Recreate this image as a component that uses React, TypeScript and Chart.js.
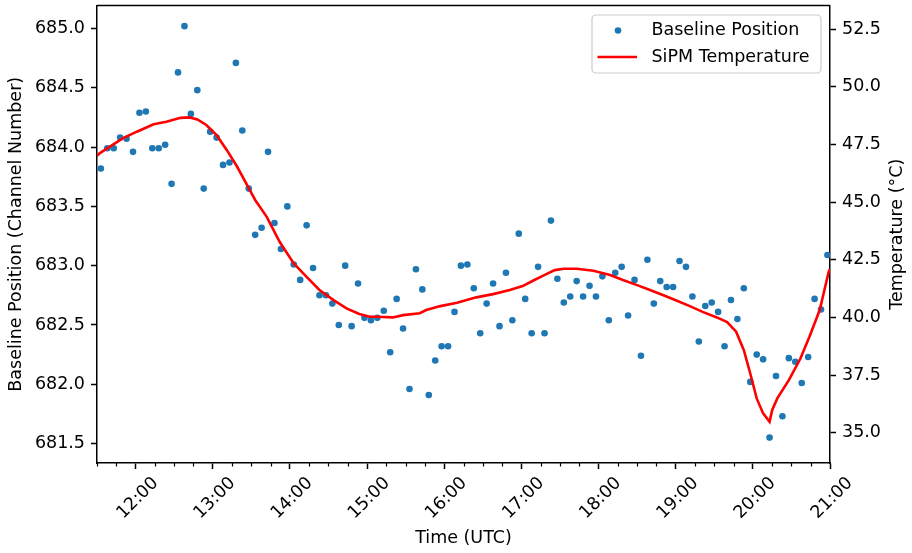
import { useEffect, useRef } from "react";
import { Chart, registerables } from "chart.js";

Chart.register(...registerables);

// Baseline position samples (one every 5 minutes)
const baselineTimes = [
  "11:33", "11:38", "11:43", "11:48", "11:53", "11:58",
  "12:03", "12:08", "12:13", "12:18", "12:23", "12:28", "12:33", "12:38", "12:43", "12:48", "12:53", "12:58",
  "13:03", "13:08", "13:13", "13:18", "13:23", "13:28", "13:33", "13:38", "13:43", "13:48", "13:53", "13:58",
  "14:03", "14:08", "14:13", "14:18", "14:23", "14:28", "14:33", "14:38", "14:43", "14:48", "14:53", "14:58",
  "15:03", "15:08", "15:13", "15:18", "15:23", "15:28", "15:33", "15:38", "15:43", "15:48", "15:53", "15:58",
  "16:03", "16:08", "16:13", "16:18", "16:23", "16:28", "16:33", "16:38", "16:43", "16:48", "16:53", "16:58",
  "17:03", "17:08", "17:13", "17:18", "17:23", "17:28", "17:33", "17:38", "17:43", "17:48", "17:53", "17:58",
  "18:03", "18:08", "18:13", "18:18", "18:23", "18:28", "18:33", "18:38", "18:43", "18:48", "18:53", "18:58",
  "19:03", "19:08", "19:13", "19:18", "19:23", "19:28", "19:33", "19:38", "19:43", "19:48", "19:53", "19:58",
  "20:03", "20:08", "20:13", "20:18", "20:23", "20:28", "20:33", "20:38", "20:43", "20:48", "20:53", "20:58",
];

const baselineValues = [
  683.82, 683.99, 683.99, 684.08, 684.07, 683.96,
  684.29, 684.3, 683.99, 683.99, 684.02, 683.69, 684.63, 685.02, 684.28, 684.48, 683.65, 684.13,
  684.08, 683.85, 683.87, 684.71, 684.14, 683.65, 683.26, 683.32, 683.96, 683.36, 683.14, 683.5,
  683.01, 682.88, 683.34, 682.98, 682.75, 682.75, 682.68, 682.5, 683.0, 682.49, 682.85, 682.56,
  682.54, 682.56, 682.62, 682.27, 682.72, 682.47, 681.96, 682.97, 682.8, 681.91, 682.2, 682.32,
  682.32, 682.61, 683.0, 683.01, 682.81, 682.43, 682.68, 682.85, 682.49, 682.94, 682.54, 683.27,
  682.72, 682.43, 682.99, 682.43, 683.38, 682.89, 682.69, 682.74, 682.87, 682.74, 682.83, 682.74,
  682.91, 682.54, 682.94, 682.99, 682.58, 682.88, 682.24, 683.05, 682.68, 682.87, 682.82, 682.82,
  683.04, 682.99, 682.74, 682.36, 682.66, 682.69, 682.61, 682.32, 682.71, 682.55, 682.81, 682.02,
  682.25, 682.21, 681.55, 682.07, 681.73, 682.22, 682.19, 682.01, 682.23, 682.72, 682.63, 683.09,
];

// SiPM temperature trace
const temperatureTimes = [
  "11:30", "11:32", "11:40", "11:50", "12:01", "12:14", "12:24", "12:35", "12:42", "12:48",
  "12:55", "13:03", "13:11", "13:19", "13:26", "13:33", "13:42", "13:52", "14:03", "14:13",
  "14:23", "14:34", "14:44", "14:54", "15:02", "15:07", "15:20", "15:28", "15:41", "15:46",
  "15:57", "16:10", "16:25", "16:38", "16:51", "17:01", "17:09", "17:17", "17:26", "17:33",
  "17:43", "17:56", "18:09", "18:19", "18:30", "18:40", "18:50", "19:01", "19:11", "19:21",
  "19:32", "19:40", "19:47", "19:53", "19:58", "20:03", "20:08", "20:13", "20:15", "20:19",
  "20:28", "20:37", "20:44", "20:52", "20:59", "21:00",
];

const temperatureValues = [
  47.0, 47.11, 47.4, 47.76, 48.05, 48.37, 48.48, 48.65, 48.67, 48.58,
  48.34, 47.9, 47.25, 46.53, 45.81, 45.09, 44.36, 43.28, 42.34, 41.76,
  41.19, 40.75, 40.39, 40.15, 40.03, 40.03, 40.0, 40.1, 40.18, 40.32,
  40.49, 40.64, 40.87, 41.01, 41.19, 41.36, 41.59, 41.81, 42.05, 42.11,
  42.11, 42.02, 41.84, 41.62, 41.4, 41.19, 40.97, 40.72, 40.49, 40.24,
  40.0, 39.8, 39.38, 38.58, 37.57, 36.49, 35.84, 35.48, 35.98, 36.49,
  37.28, 38.22, 39.16, 40.32, 41.98, 42.1,
];

const timeRange = ["11:30", "21:00"];
const hourTicks = ["12:00", "13:00", "14:00", "15:00", "16:00", "17:00", "18:00", "19:00", "20:00", "21:00"];
const baselineTicks = [681.5, 682.0, 682.5, 683.0, 683.5, 684.0, 684.5, 685.0];
const temperatureTicks = [35.0, 37.5, 40.0, 42.5, 45.0, 47.5, 50.0, 52.5];
const baselineRange = [681.336, 685.194];
const temperatureRange = [33.69, 53.52];

const FONT = "DejaVu Sans";
const FONT_SIZE = 17.5;

function toMinutes(s: string): number {
  const [h, m] = s.split(":").map(Number);
  return h * 60 + m;
}

// Extra drawing: 15-minute minor ticks, the top spine, the right-hand
// axis title (reading bottom to top) and the boxed legend.
const framePlugin = {
  id: "frame",
  afterDatasetsDraw(chart: any) {
    const { ctx, chartArea } = chart;
    const x = chart.scales.x;
    ctx.save();
    ctx.strokeStyle = "#000";
    ctx.lineWidth = 1.5;
    ctx.beginPath();
    ctx.moveTo(chartArea.left, chartArea.top);
    ctx.lineTo(chartArea.right, chartArea.top);
    ctx.stroke();
    ctx.lineWidth = 1.2;
    const start = toMinutes(timeRange[0]);
    const end = toMinutes(timeRange[1]);
    for (let t = start; t <= end; t += 15) {
      if (t % 60 === 0) continue;
      const px = Math.round(x.getPixelForValue(t)) + 0.5;
      ctx.beginPath();
      ctx.moveTo(px, chartArea.bottom);
      ctx.lineTo(px, chartArea.bottom + 3.5);
      ctx.stroke();
    }
    ctx.restore();
  },
  afterDraw(chart: any) {
    const { ctx, chartArea } = chart;

    ctx.save();
    ctx.fillStyle = "#000";
    ctx.font = `${FONT_SIZE}px "${FONT}"`;
    ctx.textAlign = "center";
    ctx.textBaseline = "middle";
    ctx.translate(897, (chartArea.top + chartArea.bottom) / 2);
    ctx.rotate(-Math.PI / 2);
    ctx.fillText("Temperature (°C)", 0, 0);
    ctx.restore();

    const w = 229;
    const h = 58;
    const bx = chartArea.right - 9 - w;
    const by = chartArea.top + 9.5;
    ctx.save();
    ctx.beginPath();
    ctx.roundRect(bx, by, w, h, 4);
    ctx.fillStyle = "rgba(255,255,255,0.8)";
    ctx.fill();
    ctx.strokeStyle = "#cccccc";
    ctx.lineWidth = 1.2;
    ctx.stroke();

    ctx.fillStyle = "#1f77b4";
    ctx.beginPath();
    ctx.arc(bx + 26, by + 15.5, 3.3, 0, Math.PI * 2);
    ctx.fill();

    ctx.strokeStyle = "#ff0000";
    ctx.lineWidth = 2.6;
    ctx.beginPath();
    ctx.moveTo(bx + 5.5, by + 42);
    ctx.lineTo(bx + 45, by + 42);
    ctx.stroke();

    ctx.fillStyle = "#000";
    ctx.font = `${FONT_SIZE}px "${FONT}"`;
    ctx.textBaseline = "middle";
    ctx.textAlign = "left";
    ctx.fillText("Baseline Position", bx + 59.5, by + 15.5);
    ctx.fillText("SiPM Temperature", bx + 59.5, by + 42);
    ctx.restore();
  },
};

function fixWidth(w: number) {
  return (scale: any) => {
    scale.width = w;
    scale.paddingTop = 0;
    scale.paddingBottom = 0;
  };
}

export default function App() {
  const canvasRef = useRef<HTMLCanvasElement | null>(null);

  useEffect(() => {
    document.body.style.margin = "0";
    const canvas = canvasRef.current;
    if (!canvas) return;

    const scatterData = baselineTimes.map((t, i) => ({ x: toMinutes(t), y: baselineValues[i] }));
    const lineData = temperatureTimes.map((t, i) => ({ x: toMinutes(t), y: temperatureValues[i] }));
    const tickFont = { family: FONT, size: FONT_SIZE };
    const axisGrid = { drawOnChartArea: false, drawTicks: true, tickLength: 6, tickColor: "#000", tickWidth: 1.5 };
    const axisBorder = { display: true, color: "#000", width: 1.5 };

    const chart = new Chart(canvas, {
      type: "scatter",
      data: {
        datasets: [
          {
            type: "line",
            label: "SiPM Temperature",
            data: lineData,
            yAxisID: "yT",
            borderColor: "#ff0000",
            borderWidth: 2.6,
            pointRadius: 0,
            tension: 0,
            fill: false,
            order: 0,
          },
          {
            type: "scatter",
            label: "Baseline Position",
            data: scatterData,
            yAxisID: "y",
            backgroundColor: "#1f77b4",
            borderWidth: 0,
            pointRadius: 3.3,
            order: 1,
          },
        ],
      },
      options: {
        responsive: false,
        animation: false,
        devicePixelRatio: 1,
        layout: { padding: { top: 5.5, left: 0, right: 0, bottom: 0 } },
        plugins: { legend: { display: false }, tooltip: { enabled: false } },
        scales: {
          x: {
            type: "linear",
            position: "bottom",
            min: toMinutes(timeRange[0]),
            max: toMinutes(timeRange[1]),
            afterBuildTicks: (scale: any) => {
              scale.ticks = hourTicks.map((s) => ({ value: toMinutes(s) }));
            },
            afterFit: (scale: any) => {
              scale.height = 90;
              scale.paddingLeft = 0;
              scale.paddingRight = 0;
            },
            ticks: {
              autoSkip: false,
              minRotation: 45,
              maxRotation: 45,
              padding: 4,
              labelOffset: 20,
              color: "#000",
              font: tickFont,
              callback: (_v: any, i: number) => hourTicks[i],
            },
            grid: axisGrid,
            border: axisBorder,
            title: {
              display: true,
              text: "Time (UTC)",
              color: "#000",
              font: tickFont,
              padding: { top: 0, bottom: 4.5 },
            },
          },
          y: {
            type: "linear",
            position: "left",
            min: baselineRange[0],
            max: baselineRange[1],
            afterBuildTicks: (scale: any) => {
              scale.ticks = baselineTicks.map((v) => ({ value: v }));
            },
            afterFit: fixWidth(97),
            ticks: {
              padding: 6,
              color: "#000",
              font: tickFont,
              callback: (v: any) => Number(v).toFixed(1),
            },
            grid: axisGrid,
            border: axisBorder,
            title: {
              display: true,
              text: "Baseline Position (Channel Number)",
              color: "#000",
              font: tickFont,
              padding: { top: 5.5, bottom: 0 },
            },
          },
          yT: {
            type: "linear",
            position: "right",
            min: temperatureRange[0],
            max: temperatureRange[1],
            afterBuildTicks: (scale: any) => {
              scale.ticks = temperatureTicks.map((v) => ({ value: v }));
            },
            afterFit: fixWidth(82),
            ticks: {
              padding: 6,
              color: "#000",
              font: tickFont,
              callback: (v: any) => Number(v).toFixed(1),
            },
            grid: axisGrid,
            border: axisBorder,
          },
        },
      },
      plugins: [framePlugin],
    } as any);

    return () => chart.destroy();
  }, []);

  return (
    <div style={{ width: 912, height: 553 }}>
      <canvas ref={canvasRef} width={912} height={553} style={{ display: "block" }} />
    </div>
  );
}
